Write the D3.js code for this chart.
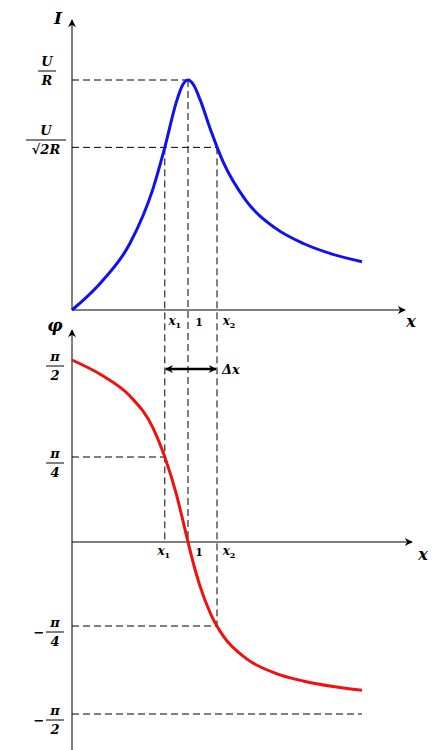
<!DOCTYPE html>
<html><head><meta charset="utf-8">
<script src="https://cdn.jsdelivr.net/npm/d3@7"></script>
<style>body{margin:0;background:#fff}text{font-family:"DejaVu Serif",serif;font-weight:bold}</style>
</head><body><svg id="c" width="440" height="750"></svg>
<script>
// frequency ratio x and values
var xs = [0, 0.25, 0.5, 0.7, 0.8, 0.9, 0.95, 1, 1.05, 1.1, 1.2, 1.3, 1.5, 1.75, 2, 2.25, 2.5];
var current = [0, 0.12, 0.29, 0.53, 0.707, 0.905, 0.975, 1, 0.977, 0.92, 0.776, 0.647, 0.476, 0.357, 0.288, 0.242, 0.21];
// phase in units of pi/2
var phase = [1, 0.924, 0.814, 0.648, 0.5, 0.28, 0.143, 0, -0.137, -0.255, -0.435, -0.553, -0.684, -0.768, -0.814, -0.844, -0.865];
var marks = [0.8, 1, 1.25];

var svg = d3.select('#c');
var x = d3.scaleLinear().domain([0, 1]).range([72, 188]);
var yI = d3.scaleLinear().domain([0, 1]).range([310, 80]);
var yP = d3.scaleLinear().domain([-1, -0.5, 0, 0.5, 1]).range([714, 626, 542, 457, 360]);

var defs = svg.append('defs');
defs.append('marker').attr('id', 'ar').attr('viewBox', '0 0 10 10').attr('refX', 9).attr('refY', 5)
  .attr('markerWidth', 10).attr('markerHeight', 8).attr('markerUnits', 'userSpaceOnUse').attr('orient', 'auto-start-reverse')
  .append('path').attr('d', 'M0,0L10,5L0,10L3,5Z').attr('fill', '#000');

function line(x1, y1, x2, y2, dash, w) {
  return svg.append('line').attr('x1', x1).attr('y1', y1).attr('x2', x2).attr('y2', y2)
    .attr('stroke', '#000').attr('stroke-width', w || 1).attr('stroke-dasharray', dash ? '7,4' : null);
}
function txt(s, px, py, size, anchor) {
  return svg.append('text').attr('x', px).attr('y', py).attr('font-size', size || 13)
    .attr('text-anchor', anchor || 'middle').attr('font-style', 'italic').text(s);
}
function sub(base, s, px, py) {
  var t = svg.append('text').attr('x', px).attr('y', py).attr('font-size', 12)
    .attr('text-anchor', 'middle').attr('font-style', 'italic');
  t.append('tspan').text(base);
  t.append('tspan').attr('font-size', 8).attr('font-style', 'normal').attr('dy', 3).text(s);
}

// axes
line(72, 310, 405, 310).attr('marker-end', 'url(#ar)');
line(72, 310, 72, 20).attr('marker-end', 'url(#ar)');
line(72, 542, 412, 542).attr('marker-end', 'url(#ar)');
line(72, 750, 72, 330).attr('marker-end', 'url(#ar)');

// dashed guides
var x1 = x(marks[0]), xm = x(marks[1]), x2 = x(marks[2]);
line(72, yI(1), xm, yI(1), true);
line(72, yI(Math.SQRT1_2), x2, yI(Math.SQRT1_2), true);
line(x1, yI(Math.SQRT1_2), x1, yP(0), true);
line(xm, yI(1), xm, yP(0), true);
line(x2, yI(Math.SQRT1_2), x2, yP(-0.5), true);
line(72, yP(0.5), x1, yP(0.5), true);
line(72, yP(-0.5), x2, yP(-0.5), true);
line(72, yP(-1), x(2.5), yP(-1), true);

// curves
var gen = d3.line().curve(d3.curveMonotoneX);
svg.append('path').attr('d', gen(xs.map(function (d, i) { return [x(d), yI(current[i])]; })))
  .attr('fill', 'none').attr('stroke', '#1010f0').attr('stroke-width', 3);
svg.append('path').attr('d', gen(xs.map(function (d, i) { return [x(d), yP(phase[i])]; })))
  .attr('fill', 'none').attr('stroke', '#f01010').attr('stroke-width', 3);

// delta x arrow
line(x1 + 1, 369, x2 - 1, 369, false, 2.5).attr('marker-end', 'url(#ar)').attr('marker-start', 'url(#ar)');
txt('Δx', 222, 374, 13, 'start');

// axis names
txt('I', 58, 24, 17);
txt('x', 411, 327, 16);
txt('φ', 55, 331, 17);
txt('x', 423, 560, 16);

// x marks
sub('x', '1', x1 + 10, 325);
txt('1', xm + 11, 326, 11).attr('font-style', 'normal');
sub('x', '2', x2 + 12, 325);
sub('x', '1', x1 - 1, 555);
txt('1', xm + 11, 556, 11).attr('font-style', 'normal');
sub('x', '2', x2 + 12, 555);

// y labels as fractions
function frac(num, den, cy, cx, minus) {
  txt(num, cx, cy - 5, 13);
  line(cx - (den.length > 2 ? 20 : 9), cy, cx + (den.length > 2 ? 20 : 9), cy);
  txt(den, cx, cy + 14, 13);
  if (minus) txt('−', cx - 16, cy + 5, 13);
}
frac('U', 'R', 71, 47);
frac('U', '√2R', 140, 46);
frac('π', '2', yP(1) + 6, 55);
frac('π', '4', yP(0.5) + 6, 55);
frac('π', '4', yP(-0.5) + 6, 55, true);
frac('π', '2', yP(-1) + 6, 55, true);
</script></body></html>
